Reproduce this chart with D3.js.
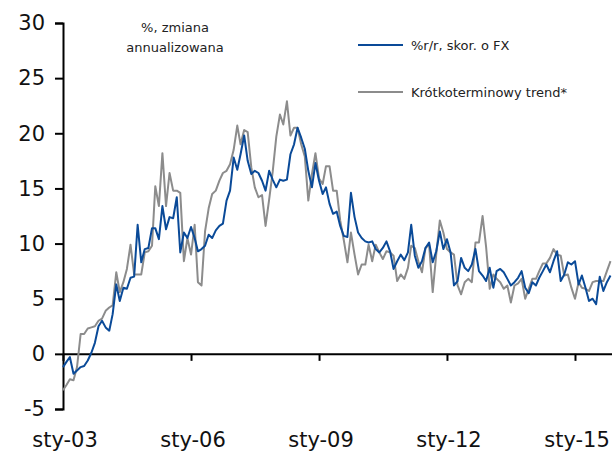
<!DOCTYPE html>
<html>
<head>
<meta charset="utf-8">
<script src="https://cdn.jsdelivr.net/npm/d3@7/dist/d3.min.js"></script>
<style>
  html, body { margin: 0; padding: 0; background: #fff; }
  svg { display: block; font-family: "DejaVu Sans", sans-serif; }
</style>
</head>
<body>
<svg id="chart" width="616" height="453"></svg>
<script>
// Monthly series, Jan 2003 – Nov 2015
const startMonth = "2003-01";
const endMonth = "2015-11";

// %r/r, adjusted for FX
const yoyFx = [
  -1.2, -0.7, -0.3, -1.8, -1.5, -1.2, -1.1, -0.6, 0.1, 1.0, 2.5, 3.0,
  2.4, 2.1, 3.6, 6.3, 4.8, 6.0, 5.9, 6.9, 7.0, 11.7, 8.3, 9.5,
  9.6, 11.4, 11.4, 10.4, 13.4, 11.3, 12.4, 12.3, 14.2, 9.2, 11.0, 10.5,
  11.5, 10.5, 9.3, 9.5, 9.8, 10.8, 10.5, 11.2, 11.6, 11.8, 13.9, 14.8,
  17.8, 16.7, 18.1, 19.8, 17.5, 16.3, 16.6, 16.4, 15.7, 14.8, 16.6, 15.8,
  15.1, 15.8, 15.7, 15.8, 18.1, 19.0, 20.5, 19.6, 18.6, 16.6, 15.1, 17.3,
  15.7, 14.5, 15.1, 13.6, 12.7, 12.9, 11.6, 10.7, 10.6, 14.6, 12.4, 11.0,
  10.5, 10.2, 10.1, 10.2, 9.5, 9.2, 9.6, 10.2, 9.3, 7.7, 8.4, 9.0,
  8.5, 9.2, 11.7, 8.9, 7.8, 8.4, 9.6, 10.1, 8.3, 9.3, 11.1, 9.5,
  10.4, 9.2, 6.2, 6.6, 8.7, 7.8, 7.5, 8.1, 9.5, 7.5, 7.1, 6.6,
  7.8, 6.0, 7.5, 7.7, 7.4, 6.8, 6.2, 6.5, 6.9, 7.5, 6.0, 5.5,
  6.5, 6.2, 6.9, 7.5, 8.1, 7.4, 8.4, 9.3, 6.6, 7.2, 8.3, 8.1,
  8.4, 6.3, 7.1, 6.0, 4.8, 5.0, 4.5, 7.0, 5.7, 6.5, 7.1
];

// Short-term trend, annualised change
const shortTrend = [
  -3.3, -2.8, -2.3, -2.4, -1.2, 1.8, 1.8, 2.3, 2.4, 2.5, 3.0, 3.2,
  3.9, 4.2, 4.4, 7.4, 5.6, 6.5, 7.7, 9.9, 7.2, 7.2, 7.2, 9.2,
  9.3, 9.8, 15.2, 13.4, 18.2, 13.4, 16.4, 14.8, 14.8, 14.6, 8.4, 10.5,
  9.0, 11.7, 6.5, 6.2, 11.1, 13.2, 14.5, 14.8, 15.7, 16.4, 16.6, 17.2,
  18.5, 20.7, 19.0, 20.3, 20.1, 16.9, 15.1, 14.2, 14.4, 11.6, 14.0, 16.5,
  19.7, 21.7, 20.8, 22.9, 19.8, 20.5, 20.5, 19.0, 17.9, 13.9, 16.3, 18.2,
  15.9, 15.4, 17.0, 17.0, 14.8, 14.8, 12.1, 10.3, 8.3, 11.0, 9.0, 7.2,
  8.1, 8.1, 9.9, 8.4, 9.9, 9.2, 8.6, 9.3, 9.2, 8.9, 6.6, 7.2,
  6.8, 7.8, 9.8, 9.6, 8.4, 7.4, 9.6, 9.9, 5.6, 9.0, 12.1, 11.0,
  9.5, 9.2, 9.0, 6.2, 5.4, 6.5, 6.8, 6.5, 10.1, 10.1, 12.5, 9.7,
  5.9, 7.2, 6.8, 6.5, 5.9, 6.2, 4.65, 6.2, 6.4, 6.8, 5.0, 5.9,
  6.8, 6.8, 7.5, 8.2, 8.2, 8.7, 9.5, 9.0, 8.9, 7.1, 7.2, 6.0,
  5.0, 6.5, 6.0, 5.9, 5.7, 6.5, 6.6, 6.6, 6.6, 7.5, 8.4
];

const yTicks = [-5, 0, 5, 10, 15, 20, 25, 30];
const xTickYears = ["2003", "2006", "2009", "2012", "2015"];
const xTickLabels = ["sty-03", "sty-06", "sty-09", "sty-12", "sty-15"];
const seriesNames = ["%r/r, skor. o FX", "Krótkoterminowy trend*"];
const noteLines = ["%, zmiana", "annualizowana"];

const parseMonth = d3.timeParse("%Y-%m");
const months = d3.timeMonth.range(parseMonth(startMonth), d3.timeMonth.offset(parseMonth(endMonth), 1));

const svg = d3.select("#chart");
const blue = "#0a4a98";
const grey = "#8c8c8c";

const x = d3.scaleTime()
  .domain([parseMonth(startMonth), parseMonth(endMonth)])
  .range([63, 610.5]);
const y = d3.scaleLinear().domain([-5, 30]).range([409, 23]);

// Y axis (plain hyphen for negative numbers)
const yAxis = svg.append("g")
  .attr("transform", `translate(${x.range()[0]},0)`)
  .call(d3.axisLeft(y).tickValues(yTicks).tickSize(8).tickPadding(10).tickFormat(d => String(d)));
yAxis.select(".domain").attr("stroke", "#000").attr("stroke-width", 2);
yAxis.selectAll(".tick line").attr("stroke", "#000").attr("stroke-width", 2);
yAxis.selectAll(".tick text")
  .attr("fill", "#111")
  .style("font-size", "21px")
  .style("font-family", "'DejaVu Sans', sans-serif");

// X axis sits on the zero line
const xAxis = svg.append("g")
  .attr("transform", `translate(0,${y(0)})`)
  .call(d3.axisBottom(x)
    .tickValues(xTickYears.map(yr => parseMonth(yr + "-01")))
    .tickSize(7)
    .tickSizeOuter(0)
    .tickFormat(""));
xAxis.select(".domain").attr("stroke", "#000").attr("stroke-width", 2)
  .attr("d", `M${x.range()[0]},0.5H612`);
xAxis.selectAll(".tick line").attr("stroke", "#000").attr("stroke-width", 2);

// X tick labels along the bottom edge
svg.append("g").selectAll("text")
  .data(xTickYears)
  .join("text")
  .attr("x", yr => x(parseMonth(yr + "-01")) + 2)
  .attr("y", 447)
  .attr("text-anchor", "middle")
  .attr("fill", "#111")
  .style("font-size", "21px")
  .text((yr, i) => xTickLabels[i]);

// Lines
const line = d3.line()
  .x((d, i) => x(months[i]))
  .y(d => y(d));

svg.append("path")
  .datum(shortTrend)
  .attr("fill", "none")
  .attr("stroke", grey)
  .attr("stroke-width", 2)
  .attr("stroke-linejoin", "round")
  .attr("d", line);

svg.append("path")
  .datum(yoyFx)
  .attr("fill", "none")
  .attr("stroke", blue)
  .attr("stroke-width", 2)
  .attr("stroke-linejoin", "round")
  .attr("d", line);

// Unit note
svg.append("g").selectAll("text")
  .data(noteLines)
  .join("text")
  .attr("x", 175)
  .attr("y", (d, i) => 32 + i * 20)
  .attr("text-anchor", "middle")
  .attr("fill", "#222")
  .style("font-size", "13px")
  .text(d => d);

// Legend
const legend = svg.append("g");
const legendColors = [blue, grey];
const legendY = [45, 92];
seriesNames.forEach((name, i) => {
  legend.append("line")
    .attr("x1", 358).attr("x2", 403)
    .attr("y1", legendY[i]).attr("y2", legendY[i])
    .attr("stroke", legendColors[i]).attr("stroke-width", 2);
  legend.append("text")
    .attr("x", 411).attr("y", legendY[i] + 5)
    .attr("fill", "#222")
    .style("font-size", "13px")
    .text(name);
});
</script>
</body>
</html>
